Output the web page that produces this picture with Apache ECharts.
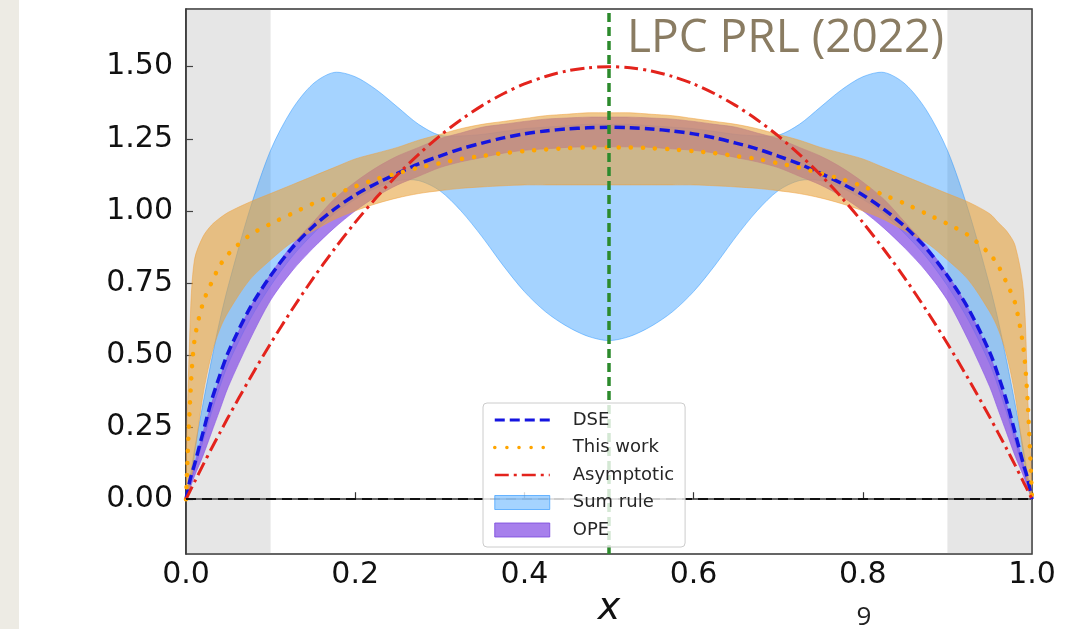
<!DOCTYPE html>
<html>
<head>
<meta charset="utf-8">
<script src="https://cdn.jsdelivr.net/npm/echarts@6/dist/echarts.min.js"></script>
<style>
  html, body { margin: 0; padding: 0; background: #ffffff; }
  #chart { width: 1077px; height: 629px; }
</style>
</head>
<body>
<div id="chart"></div>
<script>
// x grid shared by every curve and band
const xs = [0, 0.005, 0.01, 0.02, 0.03, 0.04, 0.05, 0.075, 0.1, 0.125, 0.15, 0.175, 0.2, 0.225, 0.25, 0.275, 0.3, 0.325, 0.35, 0.375, 0.4, 0.425, 0.45, 0.475, 0.5,
  0.525, 0.55, 0.575, 0.6, 0.625, 0.65, 0.675, 0.7, 0.725, 0.75, 0.775, 0.8, 0.825, 0.85, 0.875, 0.9, 0.925, 0.95, 0.96, 0.97, 0.98, 0.99, 0.995, 1];

const dse = [0, 0.07, 0.12, 0.23, 0.34, 0.43, 0.51, 0.66, 0.775, 0.87, 0.945, 1.005, 1.055, 1.095, 1.13, 1.163, 1.19, 1.215, 1.235, 1.253, 1.267, 1.277, 1.284, 1.288, 1.29,
  1.288, 1.284, 1.277, 1.267, 1.253, 1.235, 1.215, 1.19, 1.163, 1.13, 1.095, 1.055, 1.005, 0.945, 0.87, 0.775, 0.66, 0.51, 0.43, 0.34, 0.23, 0.12, 0.07, 0];

const thisWork = [0, 0.35, 0.55, 0.68, 0.75, 0.81, 0.85, 0.915, 0.955, 0.99, 1.025, 1.055, 1.085, 1.11, 1.13, 1.15, 1.165, 1.18, 1.19, 1.2, 1.207, 1.213, 1.217, 1.22, 1.22,
  1.22, 1.217, 1.213, 1.207, 1.2, 1.19, 1.18, 1.165, 1.15, 1.13, 1.11, 1.085, 1.055, 1.025, 0.99, 0.955, 0.915, 0.85, 0.81, 0.75, 0.68, 0.52, 0.33, 0];

const asymptotic = [0, 0.03, 0.059, 0.118, 0.175, 0.23, 0.285, 0.416, 0.54, 0.656, 0.765, 0.866, 0.96, 1.046, 1.125, 1.196, 1.26, 1.316, 1.365, 1.406, 1.44, 1.466, 1.485, 1.496, 1.5,
  1.496, 1.485, 1.466, 1.44, 1.406, 1.365, 1.316, 1.26, 1.196, 1.125, 1.046, 0.96, 0.866, 0.765, 0.656, 0.54, 0.416, 0.285, 0.23, 0.175, 0.118, 0.059, 0.03, 0];

const thisWorkLow = [0, 0.05, 0.15, 0.36, 0.5, 0.59, 0.65, 0.76, 0.83, 0.89, 0.93, 0.97, 1.0, 1.025, 1.045, 1.06, 1.07, 1.078, 1.083, 1.087, 1.09, 1.09, 1.09, 1.09, 1.09,
  1.09, 1.09, 1.09, 1.09, 1.087, 1.083, 1.078, 1.07, 1.06, 1.045, 1.025, 1.0, 0.97, 0.93, 0.89, 0.83, 0.76, 0.65, 0.59, 0.5, 0.36, 0.15, 0.05, 0];
const thisWorkHigh = [0, 0.62, 0.83, 0.91, 0.95, 0.975, 0.995, 1.03, 1.06, 1.09, 1.12, 1.15, 1.18, 1.2, 1.22, 1.245, 1.265, 1.285, 1.3, 1.31, 1.32, 1.33, 1.335, 1.34, 1.34,
  1.34, 1.335, 1.33, 1.32, 1.31, 1.3, 1.285, 1.265, 1.245, 1.22, 1.2, 1.18, 1.15, 1.12, 1.09, 1.06, 1.03, 0.99, 0.96, 0.93, 0.88, 0.72, 0.35, 0];

const sumRuleLow = [0, 0.05, 0.1, 0.2, 0.3, 0.39, 0.47, 0.62, 0.74, 0.84, 0.92, 0.99, 1.04, 1.08, 1.105, 1.105, 1.07, 1.0, 0.91, 0.81, 0.72, 0.65, 0.6, 0.565, 0.55,
  0.565, 0.6, 0.65, 0.72, 0.81, 0.91, 1.0, 1.07, 1.105, 1.105, 1.08, 1.04, 0.99, 0.92, 0.84, 0.74, 0.62, 0.47, 0.39, 0.3, 0.2, 0.1, 0.05, 0];
const sumRuleHigh = [0, 0.08, 0.17, 0.33, 0.48, 0.62, 0.74, 1.0, 1.21, 1.35, 1.44, 1.48, 1.465, 1.42, 1.36, 1.3, 1.262, 1.26, 1.265, 1.275, 1.285, 1.29, 1.295, 1.3, 1.3,
  1.3, 1.295, 1.29, 1.285, 1.275, 1.265, 1.26, 1.262, 1.3, 1.36, 1.42, 1.465, 1.48, 1.44, 1.35, 1.21, 1.0, 0.74, 0.62, 0.48, 0.33, 0.17, 0.08, 0];

const opeLow = [0, 0.04, 0.08, 0.15, 0.23, 0.31, 0.39, 0.55, 0.69, 0.79, 0.87, 0.94, 1.0, 1.05, 1.09, 1.12, 1.15, 1.17, 1.185, 1.2, 1.21, 1.215, 1.22, 1.222, 1.222,
  1.222, 1.22, 1.215, 1.21, 1.2, 1.185, 1.17, 1.15, 1.12, 1.09, 1.05, 1.0, 0.94, 0.87, 0.79, 0.69, 0.55, 0.39, 0.31, 0.23, 0.15, 0.08, 0.04, 0];
const opeHigh = [0, 0.07, 0.12, 0.23, 0.33, 0.42, 0.5, 0.66, 0.78, 0.88, 0.96, 1.04, 1.1, 1.15, 1.19, 1.22, 1.25, 1.27, 1.29, 1.3, 1.31, 1.318, 1.322, 1.325, 1.325,
  1.325, 1.322, 1.318, 1.31, 1.3, 1.29, 1.27, 1.25, 1.22, 1.19, 1.15, 1.1, 1.04, 0.96, 0.88, 0.78, 0.66, 0.5, 0.42, 0.33, 0.23, 0.12, 0.07, 0];

const yTicks = [0, 0.25, 0.5, 0.75, 1.0, 1.25, 1.5];
const excluded = [[0, 0.1], [0.9, 1.0]];
const midLine = 0.5;

const pts = (ys) => xs.map((x, i) => [x, ys[i]]);

const BLUE = 'rgba(30,144,255,0.4)';
const PURPLE = 'rgba(138,85,230,0.75)';
const ORANGE = 'rgba(230,163,63,0.6)';
const SMOOTH = 0.3;
const FONT = 'DejaVu Sans';

// filled band between lo and hi, drawn as one smoothed polygon
function band(name, lo, hi, fill, edge, z) {
  return {
    name: name, type: 'custom', z: z, silent: true, clip: true,
    data: xs.map((x, i) => [x, lo[i], hi[i]]),
    encode: { x: 0, y: [1, 2] },
    itemStyle: { color: fill },
    renderItem: function (params, api) {
      if (params.dataIndex !== 0) return;
      const top = xs.map((x, i) => api.coord([x, hi[i]]));
      const bottom = xs.map((x, i) => api.coord([x, lo[i]])).slice(1, -1).reverse();
      return {
        type: 'polygon',
        shape: { points: top.concat(bottom), smooth: SMOOTH },
        style: { fill: fill, stroke: edge, lineWidth: 1 }
      };
    }
  };
}

var myChart = echarts.init(document.getElementById('chart'));
var option = {
  animation: false,
  backgroundColor: '#ffffff',
  graphic: [
    { type: 'rect', shape: { x: 0, y: 0, width: 19, height: 629 }, style: { fill: '#edebe4' }, silent: true },
    { type: 'text', x: 627, y: 39, style: { text: 'LPC PRL (2022)', font: '46px "Open Sans"', fill: '#8a7c62', textVerticalAlign: 'middle', verticalAlign: 'middle' }, z: 10 },
    { type: 'text', x: 609, y: 609, style: { text: 'x', font: 'italic 38px "DejaVu Sans"', fill: '#111111', textAlign: 'center', align: 'center', textVerticalAlign: 'middle', verticalAlign: 'middle' } },
    { type: 'text', x: 864, y: 618, style: { text: '9', font: '26px "Open Sans"', fill: '#222222', textAlign: 'center', align: 'center', textVerticalAlign: 'middle', verticalAlign: 'middle' } }
  ],
  grid: {
    left: 186, top: 9, width: 846, height: 545,
    show: true, borderColor: '#333333', borderWidth: 1.5, backgroundColor: 'transparent'
  },
  legend: {
    z: 10,
    orient: 'vertical', left: 483, top: 403,
    padding: [8, 11, 8, 10],
    itemWidth: 55, itemHeight: 14, itemGap: 9.5,
    backgroundColor: 'rgba(255,255,255,0.8)',
    borderColor: '#cccccc', borderWidth: 1, borderRadius: 4,
    textStyle: { fontFamily: FONT, fontSize: 18, color: '#262626', padding: [0, 0, 0, 18] },
    data: [
      { name: 'DSE', itemStyle: { opacity: 0 }, lineStyle: { width: 3 } },
      { name: 'This work', itemStyle: { opacity: 0 }, lineStyle: { width: 3.5 } },
      { name: 'Asymptotic', itemStyle: { opacity: 0 }, lineStyle: { width: 2.5 } },
      { name: 'Sum rule', icon: 'rect', itemStyle: { color: BLUE, borderColor: 'rgba(30,144,255,0.6)', borderWidth: 1 } },
      { name: 'OPE', icon: 'rect', itemStyle: { color: PURPLE, borderColor: 'rgba(120,70,220,0.8)', borderWidth: 1 } }
    ]
  },
  xAxis: {
    type: 'value', min: 0, max: 1, interval: 0.2,
    axisLine: { show: true, lineStyle: { color: '#333333', width: 1.5 } },
    axisTick: { show: true, inside: true, length: 7, lineStyle: { color: '#333333', width: 1.2 } },
    axisLabel: { fontFamily: FONT, fontSize: 30, color: '#111111', margin: 6, formatter: (v) => v.toFixed(1) },
    splitLine: { show: false }
  },
  yAxis: {
    type: 'value', min: -0.19, max: 1.70,
    axisLine: { show: true, lineStyle: { color: '#333333', width: 1.5 } },
    axisTick: { show: true, inside: true, length: 7, customValues: yTicks, lineStyle: { color: '#333333', width: 1.2 } },
    axisLabel: { fontFamily: FONT, fontSize: 30, color: '#111111', margin: 13, customValues: yTicks, formatter: (v) => v.toFixed(2) },
    splitLine: { show: false }
  },
  series: [
    {
      name: 'excluded', type: 'line', data: [], z: 1, silent: true,
      markArea: {
        silent: true,
        itemStyle: { color: 'rgba(128,128,128,0.2)' },
        data: excluded.map((r) => [{ xAxis: r[0] }, { xAxis: r[1] }])
      }
    },
    band('Sum rule', sumRuleLow, sumRuleHigh, BLUE, 'rgba(30,144,255,0.45)', 2),
    band('OPE', opeLow, opeHigh, PURPLE, 'rgba(138,85,230,0.6)', 2),
    band('This work band', thisWorkLow, thisWorkHigh, ORANGE, 'rgba(240,160,60,0.5)', 2),
    {
      name: 'DSE', type: 'line', data: pts(dse), smooth: SMOOTH, symbol: 'none', silent: true, z: 3,
      color: '#1515e0',
      lineStyle: { color: '#1515e0', width: 3.5, type: [10, 5] }
    },
    {
      name: 'This work', type: 'line', data: pts(thisWork), smooth: SMOOTH, symbol: 'none', silent: true, z: 3,
      color: '#ffa500',
      lineStyle: { color: '#ffa500', width: 4.5, type: [0.1, 12], cap: 'round' }
    },
    {
      name: 'Asymptotic', type: 'line', data: pts(asymptotic), smooth: SMOOTH, symbol: 'none', silent: true, z: 3,
      color: '#e3231c',
      lineStyle: { color: '#e3231c', width: 3, type: [14, 5, 3, 5] }
    },
    {
      name: 'ref', type: 'line', data: [], z: 4, silent: true,
      markLine: {
        silent: true, symbol: 'none', label: { show: false },
        data: [
          { yAxis: 0, lineStyle: { color: '#111111', width: 2, type: [10, 6] } },
          { xAxis: midLine, lineStyle: { color: '#2c8a2c', width: 3.5, type: [9, 5] } }
        ]
      }
    }
  ]
};
option && myChart.setOption(option);
</script>
</body>
</html>
